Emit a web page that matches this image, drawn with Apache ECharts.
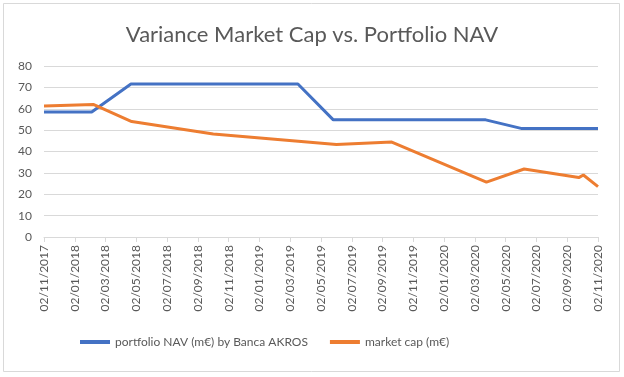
<!DOCTYPE html>
<html><head><meta charset="utf-8">
<script src="https://cdn.jsdelivr.net/npm/echarts@6/dist/echarts.min.js"></script>
<style>html,body{margin:0;padding:0;background:#fff}#c{width:624px;height:377px}</style>
</head><body><div id="c"></div>
<script>
var tickLabels = ["02/11/2017","02/01/2018","02/03/2018","02/05/2018","02/07/2018","02/09/2018","02/11/2018","02/01/2019","02/03/2019","02/05/2019","02/07/2019","02/09/2019","02/11/2019","02/01/2020","02/03/2020","02/05/2020","02/07/2020","02/09/2020","02/11/2020"];
// x positions in months since 02/11/2017
var navMonths = [0, 3.1, 5.65, 16.5, 18.8, 28.7, 31.0, 36];
var navValues = [58.5, 58.5, 71.6, 71.6, 54.8, 54.8, 50.8, 50.8];
var capMonths = [0, 3.2, 5.7, 11.0, 19.0, 22.6, 28.75, 31.2, 34.75, 35.05, 36];
var capValues = [61.3, 62.0, 54.0, 48.2, 43.3, 44.4, 25.7, 31.8, 27.8, 29.0, 23.6];

function pairs(xs, ys){ return xs.map(function(x,i){return [x, ys[i]];}); }
var font = "Lato, 'Open Sans', sans-serif";
var chart = echarts.init(document.getElementById('c'));
chart.setOption({
  animation:false,
  backgroundColor:'#fff',
  graphic:[{type:'rect',shape:{x:3.5,y:3.5,width:616,height:368},style:{fill:'none',stroke:'#d9d9d9',lineWidth:1},silent:true}],
  title:{text:'Variance Market Cap vs. Portfolio NAV',left:'center',top:19,
    textStyle:{color:'#595959',fontSize:22,fontWeight:'normal',fontFamily:font}},
  legend:{bottom:24,left:75,itemGap:22,itemWidth:30,itemHeight:4,icon:'rect',
    textStyle:{color:'#595959',fontSize:12,fontFamily:font},
    data:['portfolio NAV (m€) by Banca AKROS','market cap (m€)']},
  grid:{left:44,right:26,top:66,bottom:140,containLabel:false},
  xAxis:{type:'value',min:0,max:36,interval:2,
    axisLine:{show:true,lineStyle:{color:'#d9d9d9'}},
    axisTick:{show:true,length:5,lineStyle:{color:'#d9d9d9'}},
    splitLine:{show:false},
    axisLabel:{rotate:90,color:'#595959',fontSize:12,fontFamily:font,margin:8,
      formatter:function(v){return tickLabels[Math.round(v/2)]||'';}}},
  yAxis:{type:'value',min:0,max:80,interval:10,
    axisLine:{show:false},axisTick:{show:false},
    splitLine:{lineStyle:{color:'#d9d9d9'}},
    axisLabel:{color:'#595959',fontSize:12,fontFamily:font,margin:12}},
  series:[
    {name:'portfolio NAV (m€) by Banca AKROS',type:'line',data:pairs(navMonths,navValues),
     showSymbol:false,symbol:'none',color:'#4472C4',lineStyle:{width:3,color:'#4472C4'}},
    {name:'market cap (m€)',type:'line',data:pairs(capMonths,capValues),
     showSymbol:false,symbol:'none',color:'#ED7D31',lineStyle:{width:3,color:'#ED7D31'}}
  ]
});
</script></body></html>
